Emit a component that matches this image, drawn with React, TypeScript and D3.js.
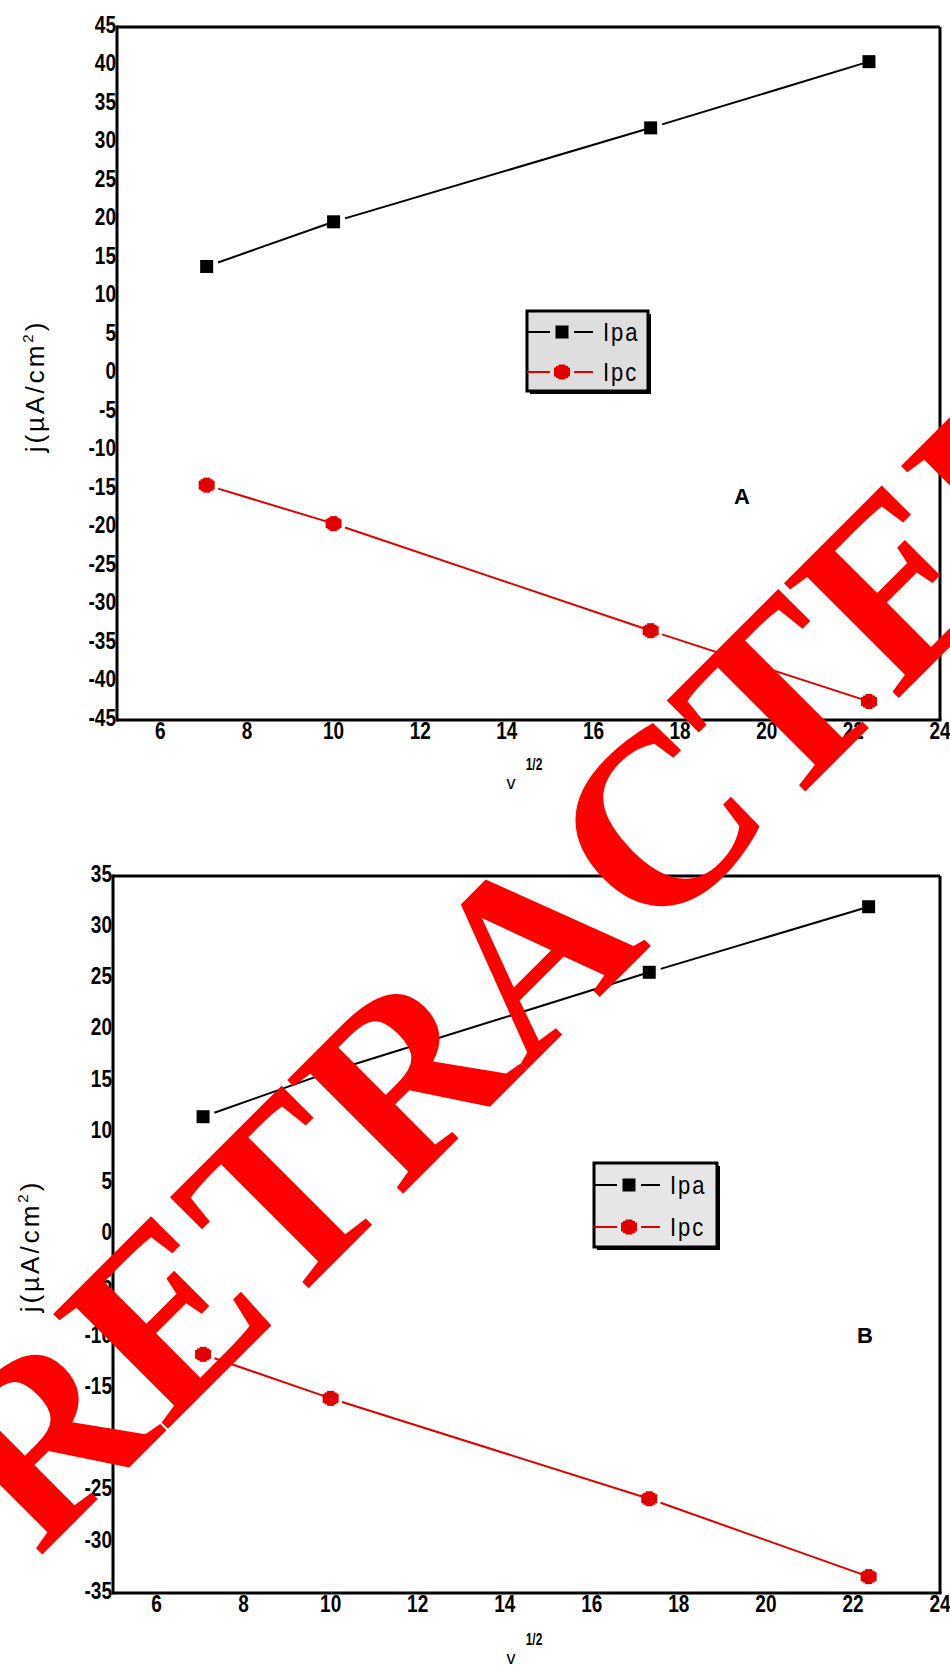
import React from "react";
import * as d3 from "d3";

// ---------- data ----------
const scanRootX = [7.07, 10.0, 17.32, 22.36]; // v^1/2
const ipaA = [13.9, 19.7, 31.9, 40.5];
const ipcA = [-14.5, -19.5, -33.4, -42.6];
const ipaB = [11.5, 15.9, 25.6, 32.0];
const ipcB = [-11.7, -16.0, -25.8, -33.4];
const xTicks = [6, 8, 10, 12, 14, 16, 18, 20, 22, 24];
const yTicksA = [-45, -40, -35, -30, -25, -20, -15, -10, -5, 0, 5, 10, 15, 20, 25, 30, 35, 40, 45];
const yTicksB = [-35, -30, -25, -20, -15, -10, -5, 0, 5, 10, 15, 20, 25, 30, 35];
const seriesNames = ["Ipa", "Ipc"];
const panelLetters = ["A", "B"];
const xDomain = [5, 24];
const yDomainA = [-45, 45];
const yDomainB = [-35, 35];

const BLACK = "#000";
const RED = "#e00000";

type PanelCfg = {
  left: number; right: number; top: number; bottom: number;
  yDomain: number[]; yTicks: number[]; ipa: number[]; ipc: number[];
  legend: { x: number; y: number; w: number; h: number; row1: number; row2: number; fill: string };
  letter: string; letterPos: [number, number];
  ylabel: [number, number]; xlabel: [number, number];
};

const panels: PanelCfg[] = [
  {
    left: 117, right: 940, top: 27, bottom: 720,
    yDomain: yDomainA, yTicks: yTicksA, ipa: ipaA, ipc: ipcA,
    legend: { x: 527, y: 311, w: 121, h: 80, row1: 332, row2: 372, fill: "#dedede" },
    letter: panelLetters[0], letterPos: [742, 496],
    ylabel: [44, 386], xlabel: [511, 789],
  },
  {
    left: 113, right: 940, top: 876, bottom: 1593,
    yDomain: yDomainB, yTicks: yTicksB, ipa: ipaB, ipc: ipcB,
    legend: { x: 594, y: 1163, w: 123, h: 84, row1: 1185, row2: 1227, fill: "#e6e6e6" },
    letter: panelLetters[1], letterPos: [865, 1335],
    ylabel: [39, 1246], xlabel: [511, 1664],
  },
];

function segments(pts: [number, number][], gapStart: number, gapEnd: number) {
  const out: [number, number, number, number][] = [];
  for (let i = 0; i < pts.length - 1; i++) {
    const [x1, y1] = pts[i];
    const [x2, y2] = pts[i + 1];
    const dx = x2 - x1, dy = y2 - y1;
    const L = Math.hypot(dx, dy);
    const ux = dx / L, uy = dy / L;
    out.push([x1 + ux * gapStart, y1 + uy * gapStart, x2 - ux * gapEnd, y2 - uy * gapEnd]);
  }
  return out;
}

function RedMarker({ x, y }: { x: number; y: number }) {
  return (
    <g fill={RED}>
      <rect x={x - 8} y={y - 4.5} width={16} height={9} />
      <rect x={x - 3.5} y={y - 7.5} width={7} height={15} />
      <rect x={x - 6} y={y - 6} width={12} height={12} />
    </g>
  );
}

function Panel({ p }: { p: PanelCfg }) {
  const x = d3.scaleLinear().domain(xDomain).range([p.left, p.right]);
  const y = d3.scaleLinear().domain(p.yDomain).range([p.bottom, p.top]);
  const ipaPts = scanRootX.map((v, i) => [x(v), y(p.ipa[i])] as [number, number]);
  const ipcPts = scanRootX.map((v, i) => [x(v), y(p.ipc[i])] as [number, number]);
  const lg = p.legend;
  return (
    <g>
      {/* frame */}
      <line x1={p.left} x2={p.right} y1={p.top} y2={p.top} stroke={BLACK} strokeWidth={3} />
      <line x1={p.right} x2={p.right} y1={p.top} y2={p.bottom} stroke={BLACK} strokeWidth={3} />
      <line x1={p.left} x2={p.left} y1={p.top - 1.5} y2={p.bottom + 1.5} stroke={BLACK} strokeWidth={3} />
      <line x1={p.left} x2={p.right + 1.5} y1={p.bottom} y2={p.bottom} stroke={BLACK} strokeWidth={3} />

      {/* y tick labels */}
      {p.yTicks.map((t) => (
        <g key={"y" + t} transform={`translate(${p.left - 1},${y(t) - 2}) scale(1,1.25)`}>
          <text textAnchor="end" dominantBaseline="central" fontFamily="Liberation Sans, Arial, sans-serif"
            fontWeight="bold" fontSize={19} fill={BLACK}>{String(t)}</text>
        </g>
      ))}
      {/* x tick labels */}
      {xTicks.map((t) => (
        <g key={"x" + t} transform={`translate(${x(t)},${p.bottom + 19}) scale(1,1.25)`}>
          <text textAnchor="middle" fontFamily="Liberation Sans, Arial, sans-serif"
            fontWeight="bold" fontSize={19} fill={BLACK}>{String(t)}</text>
        </g>
      ))}

      {/* y axis title */}
      <text transform={`translate(${p.ylabel[0]},${p.ylabel[1]}) rotate(-90)`} textAnchor="middle"
        fontFamily="Liberation Sans, Arial, sans-serif" fontSize={26} letterSpacing={3} fill={BLACK}>
        j(µA/cm<tspan dy={-11} fontSize={15}>2</tspan><tspan dy={11}>)</tspan>
      </text>
      {/* x axis title */}
      <text x={p.xlabel[0]} y={p.xlabel[1]} textAnchor="middle" fontFamily="Liberation Sans, Arial, sans-serif"
        fontSize={18} fill={BLACK}>v</text>
      <g transform={`translate(${p.xlabel[0] + 23},${p.xlabel[1] - 19}) scale(1,1.3)`}>
        <text textAnchor="middle" fontFamily="Liberation Sans, Arial, sans-serif" fontWeight="bold"
          fontSize={12} fill={BLACK}>1/2</text>
      </g>

      {/* series lines */}
      {segments(ipaPts, 12, 6).map((s, i) => (
        <line key={"a" + i} x1={s[0]} y1={s[1]} x2={s[2]} y2={s[3]} stroke={BLACK} strokeWidth={2} />
      ))}
      {segments(ipcPts, 12, 6).map((s, i) => (
        <line key={"c" + i} x1={s[0]} y1={s[1]} x2={s[2]} y2={s[3]} stroke={RED} strokeWidth={2} />
      ))}
      {ipaPts.map(([px, py], i) => (
        <rect key={"ma" + i} x={px - 6.5} y={py - 6.5} width={13} height={13} fill={BLACK} />
      ))}
      {ipcPts.map(([px, py], i) => (
        <RedMarker key={"mc" + i} x={px} y={py} />
      ))}

      {/* legend */}
      <rect x={lg.x + 3} y={lg.y + 3} width={lg.w} height={lg.h} fill={BLACK} />
      <rect x={lg.x} y={lg.y} width={lg.w} height={lg.h} fill={lg.fill} stroke={BLACK} strokeWidth={3} />
      <line x1={lg.x} x2={lg.x + 23} y1={lg.row1} y2={lg.row1} stroke={BLACK} strokeWidth={2} />
      <line x1={lg.x + 47} x2={lg.x + 66} y1={lg.row1} y2={lg.row1} stroke={BLACK} strokeWidth={2} />
      <rect x={lg.x + 35 - 6.5} y={lg.row1 - 6.5} width={13} height={13} fill={BLACK} />
      <line x1={lg.x} x2={lg.x + 23} y1={lg.row2} y2={lg.row2} stroke={RED} strokeWidth={2} />
      <line x1={lg.x + 47} x2={lg.x + 66} y1={lg.row2} y2={lg.row2} stroke={RED} strokeWidth={2} />
      <RedMarker x={lg.x + 35} y={lg.row2} />
      {[lg.row1, lg.row2].map((ry, i) => (
        <g key={"lt" + i} transform={`translate(${lg.x + 76},${ry + 9}) scale(1,1.2)`}>
          <text fontFamily="Liberation Sans, Arial, sans-serif" fontSize={22} letterSpacing={2} fill={BLACK}>
            {seriesNames[i]}
          </text>
        </g>
      ))}

      {/* panel letter */}
      <text x={p.letterPos[0]} y={p.letterPos[1]} textAnchor="middle" dominantBaseline="central"
        fontFamily="Liberation Sans, Arial, sans-serif" fontWeight="bold" fontSize={22} fill={BLACK}>
        {p.letter}
      </text>
    </g>
  );
}

export default function App() {
  return (
    <svg width={950} height={1667} viewBox="0 0 950 1667"
      style={{ position: "absolute", left: 0, top: 0, background: "#fff" }}>
      <rect x={0} y={0} width={950} height={1667} fill="#fff" />
      {panels.map((p, i) => (
        <Panel key={i} p={p} />
      ))}
      {/* watermark */}
      <text transform="translate(531,950) rotate(-45)" textAnchor="middle" dy="0.33em"
        fontFamily="Liberation Serif, Times New Roman, serif" fontWeight="bold" fontSize={248} fill="#ff0000">
        RETRACTED
      </text>
    </svg>
  );
}
